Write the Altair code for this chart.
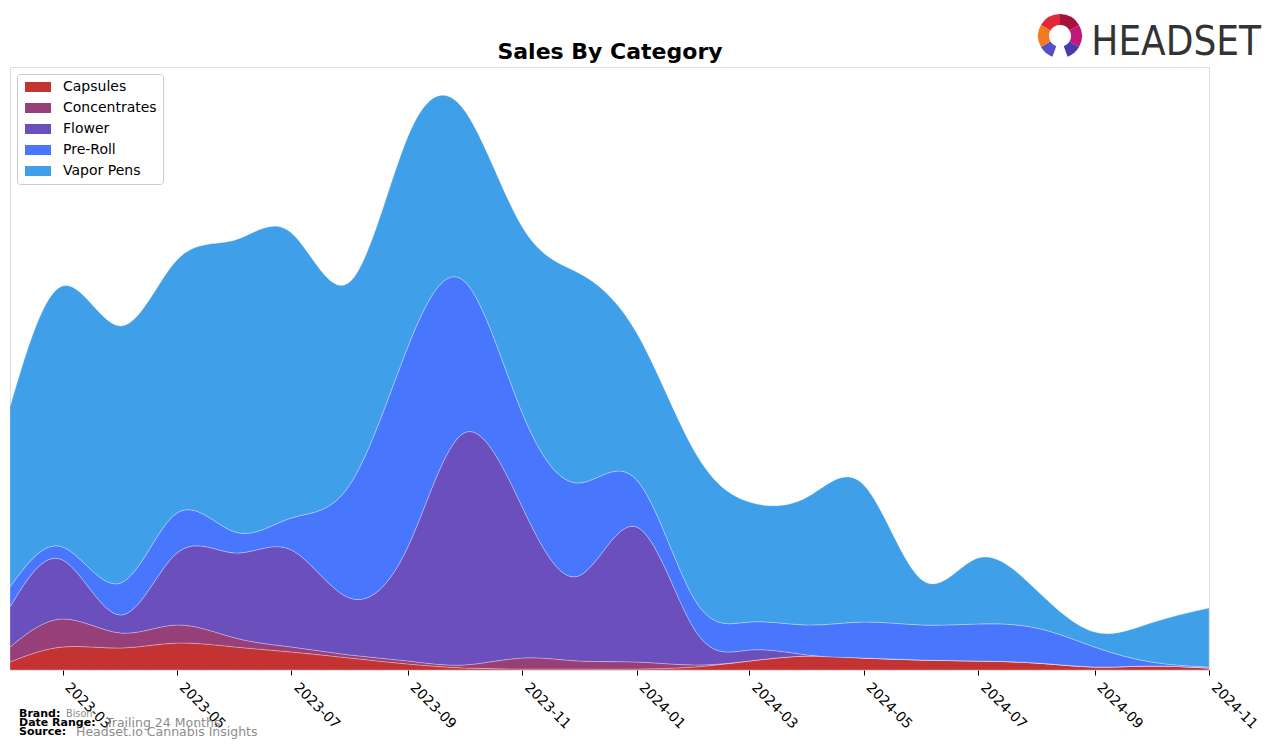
import altair as alt
import pandas as pd

months = ["2023-02-01", "2023-03-01", "2023-04-01", "2023-05-01", "2023-06-01", "2023-07-01",
          "2023-08-01", "2023-09-01", "2023-10-01", "2023-11-01", "2023-12-01", "2024-01-01",
          "2024-02-01", "2024-03-01", "2024-04-01", "2024-05-01", "2024-06-01", "2024-07-01",
          "2024-08-01", "2024-09-01", "2024-10-01", "2024-11-01"]
categories = ["Capsules", "Concentrates", "Flower", "Pre-Roll", "Vapor Pens"]
colors = ["#c33333", "#963f78", "#6a4fbd", "#4876fd", "#3f9fe8"]

capsules = [8, 23, 22, 27, 23, 18, 12, 6, 2, 1, 1, 1, 3, 9, 14, 12, 10, 9, 7, 3, 4, 2]
concentrates = [15, 28, 15, 18, 9, 5, 3, 3, 3, 11, 8, 7, 2, 0, 0, 0, 0, 0, 0, 0, 0, 0]
flower = [40, 59, 18, 72, 85, 97, 57, 114, 232, 151, 85, 135, 35, 11, 1, 0, 0, 0, 0, 0, 0, 0]
pre_roll = [20, 13, 32, 40, 21, 32, 113, 200, 152, 94, 93, 47, 30, 28, 30, 36, 35, 37, 35, 20, 4, 1]
vapor_pens = [180, 261, 257, 253, 292, 285, 203, 210, 171, 186, 210, 147, 148, 120, 128, 137,
              45, 66, 38, 15, 39, 59]

tick_months = ["2023-03-01", "2023-05-01", "2023-07-01", "2023-09-01", "2023-11-01", "2024-01-01",
               "2024-03-01", "2024-05-01", "2024-07-01", "2024-09-01", "2024-11-01"]


def ms(s):
    return int(pd.Timestamp(s, tz="UTC").value // 10**6)


series = [capsules, concentrates, flower, pre_roll, vapor_pens]
rows = []
for ci, (cat, vals) in enumerate(zip(categories, series)):
    for m, v in zip(months, vals):
        rows.append({"date": ms(m), "category": cat, "value": v, "order": ci})
df = pd.DataFrame(rows)

W, H = 1199, 603
OX, OY = 10, 67

legend_path = "M-2.6,-1H2.6V1H-2.6Z"

area = alt.Chart(df).mark_area(
    interpolate="natural", stroke="white", strokeWidth=0.8, strokeOpacity=0.35
).encode(
    x=alt.X("date:T",
            scale=alt.Scale(type="utc", domain=[ms(months[0]), ms(months[-1])], nice=False),
            axis=alt.Axis(values=[ms(t) for t in tick_months],
                          labelExpr="utcFormat(datum.value, '%Y-%m')",
                          labelAngle=45, labelAlign="left", labelBaseline="top",
                          labelFont="DejaVu Sans", labelFontSize=14, labelColor="black",
                          labelPadding=5, labelOffset=9, labelFlush=False,
                          labelOverlap=False, labelBound=False,
                          tickColor="black", tickSize=5, tickWidth=1,
                          domain=False, grid=False, title=None)),
    y=alt.Y("value:Q", stack="zero",
            scale=alt.Scale(domain=[0, 603], nice=False, zero=True),
            axis=None),
    color=alt.Color("category:N",
                    scale=alt.Scale(domain=categories, range=colors),
                    legend=alt.Legend(title=None, orient="top-left", offset=7,
                                      strokeColor="#cccccc", fillColor="white",
                                      cornerRadius=3, padding=6,
                                      labelFont="DejaVu Sans", labelFontSize=14,
                                      labelColor="black",
                                      symbolType=legend_path, symbolSize=100,
                                      symbolStrokeWidth=0, symbolOpacity=1,
                                      rowPadding=7, symbolOffset=8, labelOffset=18)),
    order=alt.Order("order:Q", sort="ascending"),
)


def text_layer(txt, x, y, size, color="black", weight="normal", align="left",
               font="DejaVu Sans", baseline="alphabetic"):
    return alt.Chart(pd.DataFrame({"t": [txt]})).mark_text(
        align=align, baseline=baseline, fontSize=size, fontWeight=weight,
        color=color, font=font
    ).encode(text="t:N", x=alt.value(x - OX), y=alt.value(y - OY))


title = text_layer("Sales By Category", 610, 59, 22, weight="bold", align="center")
logo_text = text_layer("HEADSET", 1261, 55, 40, color="#333333", align="right",
                       font="Liberation Sans Narrow, DejaVu Sans Condensed, sans-serif")

logo_df = pd.DataFrame({
    "t1": [5.236, 0.0, 1.047, 2.094, 3.49, 4.189],
    "t2": [6.283, 1.047, 2.094, 2.79, 4.189, 5.236],
    "c": ["#e02a3a", "#a5123e", "#c2187a", "#4a3aa8", "#5550c8", "#f27a22"],
})
logo_icon = alt.Chart(logo_df).mark_arc(outerRadius=22, innerRadius=11).encode(
    theta=alt.Theta("t1:Q", scale=None),
    theta2="t2:Q",
    fill=alt.Fill("c:N", scale=None, legend=None),
    x=alt.value(1060 - OX),
    y=alt.value(36 - OY),
)

f1 = text_layer("Brand:", 19, 717, 11, weight="bold")
f1v = text_layer("Bison", 66, 717, 9.7, color="#8c8c8c")
f2 = text_layer("Date Range:", 19, 726, 11, weight="bold")
f2v = text_layer("Trailing 24 Months", 106, 727, 12.5, color="#8c8c8c")
f3 = text_layer("Source:", 19, 735, 11, weight="bold")
f3v = text_layer("Headset.io Cannabis Insights", 76, 736, 12.5, color="#8c8c8c")

chart = alt.layer(area, title, logo_text, logo_icon, f1, f1v, f2, f2v, f3, f3v).properties(
    width=W, height=H,
    autosize=alt.AutoSizeParams(type="none"),
    padding={"left": OX, "top": OY, "right": 1276 - OX - W, "bottom": 748 - OY - H},
).configure_view(stroke="black", strokeWidth=1).configure(background="white")

chart.save("out.html", embed_options={"renderer": "svg", "actions": False})
